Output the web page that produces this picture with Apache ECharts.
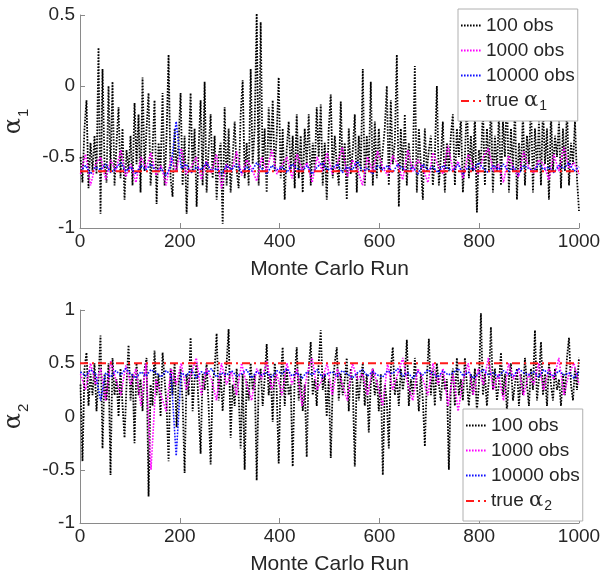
<!DOCTYPE html>
<html><head><meta charset="utf-8">
<script src="https://cdn.jsdelivr.net/npm/echarts@6/dist/echarts.min.js"></script>
<style>html,body{margin:0;padding:0;background:#fff}#c{width:600px;height:579px}</style>
</head><body><div id="c"></div>
<script>
// ---- data ----
const xTicks = [0, 200, 400, 600, 800, 1000];
const trueAlpha1 = -0.6;
const trueAlpha2 = 0.5;
const legendNames1 = ['100 obs', '1000 obs', '10000 obs', 'true α1'];
const legendNames2 = ['100 obs', '1000 obs', '10000 obs', 'true α2'];

const alpha1Obs100 = [
 -0.5,-0.68,-0.3,-0.1,-0.72,-0.4,-0.6,-0.35,-0.62,0.27,
 -0.9,0.12,-0.55,-0.68,0.0,-0.6,0.03,-0.7,-0.4,-0.15,
 -0.65,-0.3,-0.8,-0.45,-0.6,-0.35,-0.7,-0.12,-0.55,-0.2,
 -0.75,0.06,-0.6,-0.3,-0.05,-0.7,-0.45,-0.1,-0.83,-0.4,
 -0.6,-0.05,-0.7,-0.35,0.22,-0.65,-0.78,-0.3,-0.6,-0.4,
 -0.05,-0.7,-0.35,-0.9,-0.5,-0.05,-0.6,-0.3,-0.85,-0.45,
 -0.1,-0.7,0.03,-0.75,-0.45,-0.2,-0.65,-0.35,-0.8,-0.5,
 -0.4,-0.97,-0.15,-0.7,-0.3,-0.75,-0.5,-0.25,-0.6,-0.72,
 -0.2,0.04,-0.65,-0.4,-0.7,0.12,-0.55,-0.3,0.52,-0.7,
 0.45,-0.6,-0.3,-0.75,-0.15,-0.5,-0.1,-0.6,-0.35,0.06,
 -0.65,-0.3,-0.8,-0.45,-0.25,-0.6,-0.35,-0.72,-0.2,-0.65,
 -0.35,-0.75,-0.3,-0.55,-0.2,-0.7,-0.4,-0.6,-0.15,-0.5,
 -0.13,-0.7,-0.4,-0.8,-0.3,-0.06,-0.65,-0.35,-0.55,-0.7,
 -0.11,-0.6,-0.4,-0.8,-0.3,-0.62,-0.45,-0.2,-0.75,-0.35,
 -0.6,0.12,-0.7,-0.35,-0.6,0.03,-0.7,-0.25,-0.65,-0.3,
 -0.6,-0.45,-0.3,0.0,-0.7,-0.1,-0.55,-0.4,0.22,-0.85,
 -0.3,-0.6,-0.2,-0.7,-0.4,-0.6,-0.55,0.14,-0.75,-0.3,
 -0.55,-0.8,-0.3,-0.6,-0.45,-0.35,-0.7,-0.5,0.0,-0.7,
 -0.5,-0.25,-0.75,-0.4,-0.6,-0.35,-0.2,-0.7,-0.3,-0.5,
 -0.2,-0.75,-0.5,-0.1,-0.65,-0.35,-0.6,-0.2,-0.89,-0.45,
 -0.55,-0.15,-0.7,-0.3,-0.6,-0.1,-0.75,-0.35,-0.6,-0.2,
 -0.7,-0.25,-0.5,-0.05,-0.75,-0.3,-0.6,-0.15,-0.8,-0.4,
 -0.6,-0.2,-0.7,-0.35,-0.55,-0.1,-0.75,-0.3,-0.6,-0.25,
 -0.7,-0.15,-0.55,-0.3,-0.8,-0.2,-0.6,-0.35,-0.5,-0.25,
 -0.72,-0.3,-0.6,-0.15,-0.7,-0.4,-0.55,-0.25,-0.65,-0.88
];
const alpha1Obs1000 = [
 -0.62,-0.48,-0.7,-0.55,-0.5,-0.66,-0.52,-0.6,-0.45,-0.64,
 -0.55,-0.68,-0.5,-0.58,-0.47,-0.63,-0.56,-0.7,-0.5,-0.6,
 -0.44,-0.62,-0.57,-0.5,-0.66,-0.53,-0.61,-0.48,-0.72,-0.55,
 -0.6,-0.46,-0.63,-0.52,-0.58,-0.67,-0.5,-0.6,-0.45,-0.62,
 -0.56,-0.5,-0.65,-0.48,-0.59,-0.54,-0.68,-0.5,-0.6,-0.47,
 -0.62,-0.55,-0.43,-0.64,-0.52,-0.58,-0.7,-0.5,-0.6,-0.46,
 -0.57,-0.63,-0.49,-0.55,-0.66,-0.45,-0.6,-0.52,-0.58,-0.68,
 -0.47,-0.56,-0.62,-0.42,-0.6,-0.53,-0.65,-0.48,-0.57,-0.62,
 -0.5,-0.44,-0.6,-0.55,-0.68,-0.49,-0.58,-0.64,-0.46,-0.57,
 -0.61,-0.52,-0.55,-0.66,-0.48,-0.6,-0.43,-0.58,-0.54,-0.62
];
const alpha1Obs10000 = [
 -0.60,-0.56,-0.62,-0.57,-0.59,-0.55,-0.61,-0.58,-0.54,-0.60,
 -0.57,-0.62,-0.56,-0.59,-0.55,-0.60,-0.58,-0.63,-0.56,-0.25,
 -0.58,-0.55,-0.61,-0.57,-0.59,-0.54,-0.60,-0.58,-0.62,-0.56,
 -0.59,-0.55,-0.61,-0.57,-0.60,-0.54,-0.58,-0.62,-0.56,-0.59,
 -0.57,-0.61,-0.55,-0.58,-0.60,-0.56,-0.62,-0.57,-0.54,-0.59,
 -0.58,-0.55,-0.61,-0.57,-0.59,-0.53,-0.60,-0.58,-0.62,-0.56,
 -0.59,-0.56,-0.61,-0.55,-0.58,-0.60,-0.57,-0.62,-0.55,-0.59,
 -0.57,-0.61,-0.56,-0.58,-0.60,-0.55,-0.62,-0.57,-0.59,-0.54,
 -0.58,-0.61,-0.56,-0.59,-0.55,-0.60,-0.57,-0.62,-0.56,-0.58,
 -0.60,-0.55,-0.59,-0.57,-0.61,-0.56,-0.58,-0.54,-0.60,-0.57
];
const alpha2Obs100 = [
 0.3,-0.42,0.45,0.6,0.1,0.4,0.2,0.5,0.05,0.35,
 0.76,-0.3,0.4,0.15,0.5,-0.55,0.55,0.2,0.35,0.0,
 0.45,0.1,-0.2,0.3,0.67,0.15,0.4,-0.25,0.5,0.2,
 0.35,0.05,0.45,0.55,-0.75,0.3,0.1,0.62,0.2,0.4,
 0.0,0.6,0.35,0.1,-0.42,0.45,0.2,0.5,-0.1,0.3,
 0.45,0.15,-0.53,0.4,0.2,0.74,0.05,0.35,0.5,0.1,
 -0.35,0.4,0.25,0.5,0.1,-0.45,0.3,0.45,0.78,0.15,
 0.4,0.05,0.35,0.5,0.82,-0.2,0.3,0.1,0.45,0.2,
 -0.3,0.4,-0.5,0.35,0.15,0.5,0.25,0.4,-0.6,0.3,
 0.45,0.1,0.35,0.68,0.2,0.4,-0.05,0.5,0.25,-0.44,
 0.35,0.65,0.1,0.45,0.2,0.3,-0.47,0.4,0.65,0.15,
 0.4,0.05,0.3,-0.38,0.45,0.7,0.2,0.35,0.1,0.5,
 0.81,0.25,0.4,0.0,0.35,-0.39,0.3,0.5,0.65,0.15,
 0.4,0.2,0.35,0.55,0.05,0.45,0.3,-0.47,0.4,0.15,
 0.35,0.5,0.1,0.4,-0.15,0.3,0.45,0.2,0.35,0.05,
 0.4,-0.55,0.3,0.15,-0.3,0.45,0.65,0.2,0.35,0.1,
 0.45,0.25,0.4,0.72,0.1,0.35,0.2,0.55,0.3,0.05,
 0.4,0.15,-0.28,0.35,0.73,0.2,0.45,0.1,0.5,0.3,
 0.15,0.4,0.25,0.35,-0.5,0.3,0.45,0.1,0.55,0.2,
 0.35,0.15,0.55,0.3,0.1,0.4,0.2,0.45,0.05,0.3,
 0.97,0.2,0.4,0.1,0.35,0.84,0.25,0.45,0.15,0.3,
 0.6,0.2,0.4,0.05,0.35,0.5,0.15,0.3,0.45,0.1,
 0.4,0.2,0.55,0.3,0.1,0.45,0.25,0.81,0.15,0.35,
 0.7,0.2,0.4,0.1,0.5,0.3,0.15,0.45,0.25,0.35,
 0.1,0.4,0.2,0.55,0.74,0.3,0.15,0.45,0.25,0.55
];
const alpha2Obs1000 = [
 0.4,0.25,0.5,0.3,0.45,0.15,0.52,0.35,0.2,0.48,
 0.3,0.45,0.1,0.5,-0.5,0.35,0.2,0.05,0.45,0.3,
 0.5,0.25,0.4,0.55,0.2,0.45,0.35,0.15,0.5,0.3,
 0.42,0.2,0.5,0.3,0.15,0.45,0.35,0.52,0.25,0.4,
 0.2,0.5,0.3,0.45,0.1,0.4,0.55,0.25,0.35,0.5,
 0.2,0.45,0.3,0.15,0.5,0.35,0.4,0.2,0.45,0.3,
 0.1,0.5,0.25,0.4,0.55,0.3,0.15,0.45,0.35,0.2,
 0.5,0.3,0.45,0.1,0.4,0.05,0.35,0.5,0.2,0.45,
 0.3,0.55,0.25,0.4,0.15,0.5,0.35,0.45,0.2,0.4,
 0.3,0.5,0.25,0.45,0.35,0.55,0.2,0.4,0.5,0.3
];
const alpha2Obs10000 = [
 0.42,0.38,0.44,0.40,0.15,0.41,0.37,0.43,0.39,0.45,
 0.40,0.36,0.42,0.38,0.44,0.41,0.37,0.43,0.39,-0.37,
 0.41,0.38,0.44,0.36,0.42,0.40,0.45,0.37,0.41,0.39,
 0.43,0.38,0.40,0.44,0.36,0.42,0.39,0.41,0.37,0.43,
 0.40,0.45,0.38,0.41,0.36,0.42,0.39,0.44,0.37,0.40,
 0.42,0.38,0.43,0.40,0.36,0.41,0.44,0.38,0.42,0.39,
 0.37,0.43,0.40,0.45,0.38,0.41,0.36,0.42,0.39,0.44,
 0.40,0.37,0.43,0.39,0.41,0.45,0.38,0.42,0.36,0.40,
 0.44,0.39,0.41,0.37,0.43,0.40,0.38,0.45,0.41,0.39,
 0.42,0.37,0.44,0.40,0.38,0.43,0.39,0.41,0.36,0.42
];

// ---- build ----
const RUN_FIRST = 1, RUN_LAST = 1000;
function toPairs(vals) {
  const n = vals.length;
  return vals.map((v, i) => [RUN_FIRST + i * (RUN_LAST - RUN_FIRST) / (n - 1), v]);
}
function constLine(v) { return [[xTicks[0], v], [xTicks[xTicks.length - 1], v]]; }

const FONT = 'Liberation Sans, Arial, Helvetica, sans-serif';
const TXT = '#262626';
const AX = '#8a8a8a';

function xAxisCfg(gi) {
  return {
    type: 'value', gridIndex: gi, min: xTicks[0], max: xTicks[xTicks.length - 1], interval: 200,
    name: 'Monte Carlo Run', nameLocation: 'middle', nameGap: 31,
    nameTextStyle: { fontFamily: FONT, fontSize: 21, color: TXT },
    axisLine: { show: true, onZero: false, lineStyle: { color: AX, width: 1 } },
    axisTick: { show: true, inside: true, length: 5, lineStyle: { color: AX } },
    axisLabel: { fontFamily: FONT, fontSize: 19, color: TXT, margin: 4, formatter: v => String(v) },
    splitLine: { show: false }
  };
}
function yAxisCfg(gi, min, max, sub) {
  return {
    type: 'value', gridIndex: gi, min: min, max: max, interval: 0.5,
    name: '{a|α}{s|' + sub + '}', nameLocation: 'middle', nameGap: 48, nameRotate: 90,
    nameTextStyle: { color: TXT, rich: {
      a: { fontFamily: 'DejaVu Serif, serif', fontSize: 24, color: TXT, verticalAlign: 'bottom', lineHeight: 26 },
      s: { fontFamily: FONT, fontSize: 15, color: TXT, verticalAlign: 'bottom', lineHeight: 18, padding: [0, 0, -6, 1] }
    } },
    axisLine: { show: true, onZero: false, lineStyle: { color: AX, width: 1 } },
    axisTick: { show: true, inside: true, length: 5, lineStyle: { color: AX } },
    axisLabel: { fontFamily: FONT, fontSize: 19, color: TXT, margin: 5, formatter: v => String(v) },
    splitLine: { show: false }
  };
}
function dotted(name, color, data, xi, w) {
  return { type: 'line', name: name, xAxisIndex: xi, yAxisIndex: xi, data: data,
    showSymbol: false, symbol: 'none', clip: true, animation: false,
    lineStyle: { color: color, width: w, type: [1.6, 1.4] }, itemStyle: { color: color } };
}
function dashdot(name, v, xi) {
  return { type: 'line', name: name, xAxisIndex: xi, yAxisIndex: xi, data: constLine(v),
    showSymbol: false, symbol: 'none', animation: false, z: 5,
    lineStyle: { color: '#ff1a1a', width: 2, type: [8, 4, 2, 4] }, itemStyle: { color: '#ff1a1a' } };
}
function legendCfg(names, left, top) {
  return {
    data: names, orient: 'vertical', left: left, top: top,
    itemWidth: 20, itemHeight: 10, itemGap: 2,
    padding: [5, 3, 8, 2],
    backgroundColor: '#fff', borderColor: '#b0b0b0', borderWidth: 1, borderRadius: 0,
    selectedMode: false,
    itemStyle: { opacity: 0 },
    formatter: n => n.startsWith('true') ? 'true {a|α}{s|' + n.slice(-1) + '}' : n,
    textStyle: { fontFamily: FONT, fontSize: 19, color: TXT, lineHeight: 23,
      rich: {
        a: { fontFamily: 'DejaVu Serif, serif', fontSize: 21, color: TXT, lineHeight: 23 },
        s: { fontFamily: FONT, fontSize: 14, color: TXT, lineHeight: 23, padding: [10, 0, 0, 1] }
      } }
  };
}

const chart = echarts.init(document.getElementById('c'), null, { renderer: 'canvas' });
chart.setOption({
  backgroundColor: '#fff',
  animation: false,
  grid: [
    { left: 80, right: 21, top: 15, height: 213, containLabel: false, outerBoundsMode: 'none' },
    { left: 80, right: 21, top: 310, height: 213, containLabel: false, outerBoundsMode: 'none' }
  ],
  xAxis: [xAxisCfg(0), xAxisCfg(1)],
  yAxis: [yAxisCfg(0, -1, 0.5, '1'), yAxisCfg(1, -1, 1, '2')],
  legend: [legendCfg(legendNames1, 458, 9), legendCfg(legendNames2, 463, 409)],
  series: [
    dotted('100 obs', '#000000', toPairs(alpha1Obs100), 0, 1.8),
    dotted('1000 obs', '#ff00ff', toPairs(alpha1Obs1000), 0, 1.6),
    dotted('10000 obs', '#1010ff', toPairs(alpha1Obs10000), 0, 1.6),
    dashdot(legendNames1[3], trueAlpha1, 0),
    dotted('100 obs', '#000000', toPairs(alpha2Obs100), 1, 1.8),
    dotted('1000 obs', '#ff00ff', toPairs(alpha2Obs1000), 1, 1.6),
    dotted('10000 obs', '#1010ff', toPairs(alpha2Obs10000), 1, 1.6),
    dashdot(legendNames2[3], trueAlpha2, 1)
  ]
});
</script></body></html>
